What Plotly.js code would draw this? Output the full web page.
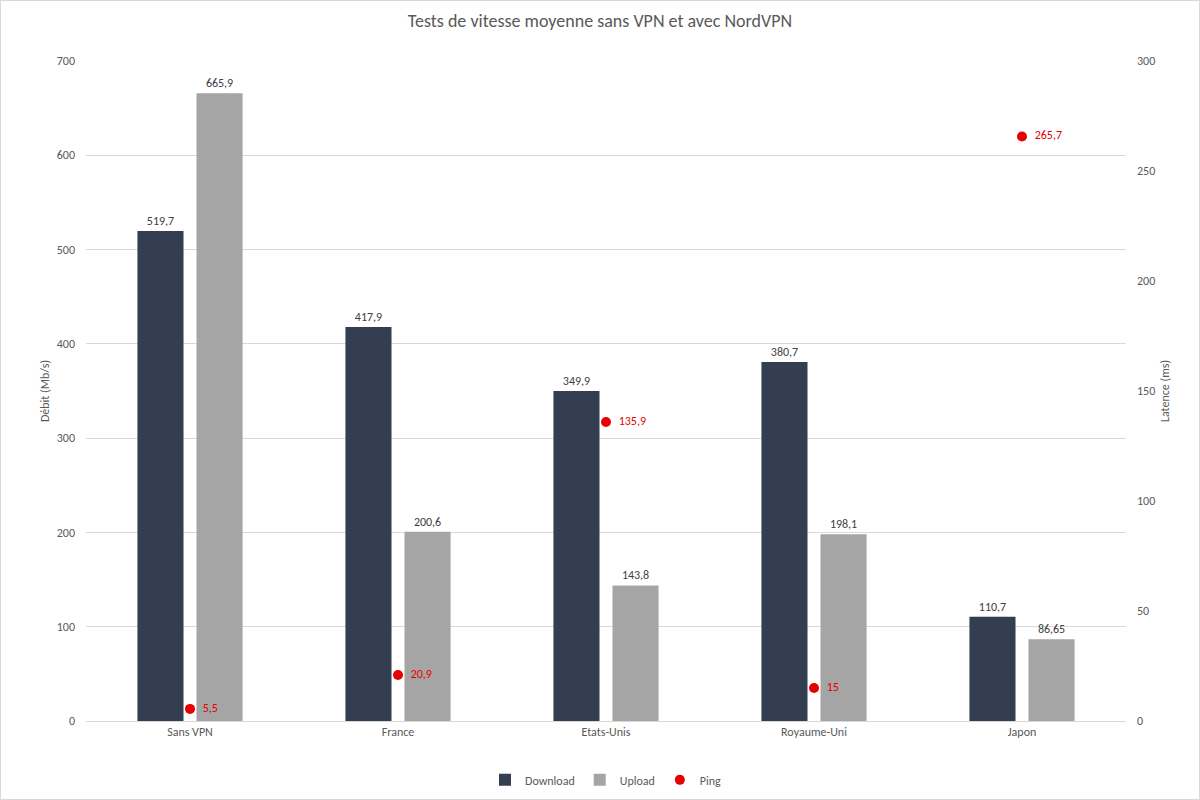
<!DOCTYPE html>
<html>
<head>
<meta charset="utf-8">
<script src="https://cdn.plot.ly/plotly-3.0.1.min.js"></script>
<style>
html,body{margin:0;padding:0;background:#fff;}
#chart{width:1200px;height:800px;box-sizing:border-box;border:1px solid #d9d9d9;}
</style>
</head>
<body>
<div id="chart"></div>
<script>
const categories = ["Sans VPN", "France", "Etats-Unis", "Royaume-Uni", "Japon"];
const download = [519.7, 417.9, 349.9, 380.7, 110.7];
const upload = [665.9, 200.6, 143.8, 198.1, 86.65];
const ping = [5.5, 20.9, 135.9, 15, 265.7];

const fmt = v => String(v).replace('.', ',');
const font = "Calibri, Carlito, 'Liberation Sans', 'Noto Sans', sans-serif";
const gray = "#595959";

const traces = [
  {
    type: "bar", name: "Download", x: categories, y: download,
    marker: {color: "#333f50"},
    text: download.map(fmt), textposition: "outside",
    textfont: {family: font, size: 12, color: "#404040"},
    cliponaxis: false, hoverinfo: "y"
  },
  {
    type: "bar", name: "Upload", x: categories, y: upload,
    marker: {color: "#a5a5a5"},
    text: upload.map(fmt), textposition: "outside",
    textfont: {family: font, size: 12, color: "#404040"},
    cliponaxis: false, hoverinfo: "y"
  },
  {
    type: "scatter", mode: "markers+text", name: "Ping", x: categories, y: ping,
    yaxis: "y2",
    marker: {color: "#e60000", size: 10},
    text: ping.map(v => "  " + fmt(v)), textposition: "middle right",
    textfont: {family: font, size: 12, color: "#e60000"},
    cliponaxis: false
  }
];

const layout = {
  width: 1198, height: 798,
  paper_bgcolor: "#fff", plot_bgcolor: "#fff",
  margin: {l: 85, r: 73, t: 60, b: 78},
  font: {family: font, color: gray, size: 12},
  title: {text: "Tests de vitesse moyenne sans VPN et avec NordVPN", x: 0.5, xanchor: "center", y: 0.975, yanchor: "middle",
          font: {family: font, size: 18, color: gray}},
  barmode: "group",
  bargap: 0.432,
  bargroupgap: 0.22,
  showlegend: true,
  legend: {orientation: "h", x: 0.5, xanchor: "center", yref: "container", y: 0.024, yanchor: "middle",
           font: {family: font, size: 12, color: gray}, itemwidth: 30},
  xaxis: {
    type: "category", showgrid: false, showline: true, linecolor: "#d9d9d9", linewidth: 1,
    ticks: "", tickfont: {family: font, size: 12, color: gray}, zeroline: false
  },
  yaxis: {
    range: [0, 700], dtick: 100, showgrid: true, gridcolor: "#d9d9d9", gridwidth: 1,
    zeroline: false, showline: false, ticks: "", ticklabelstandoff: 10,
    tickfont: {family: font, size: 12, color: gray},
    title: {text: "Débit (Mb/s)", font: {family: font, size: 12, color: gray}, standoff: 4}
  },
  yaxis2: {
    overlaying: "y", side: "right", range: [0, 300], dtick: 50, showgrid: false,
    zeroline: false, showline: false, ticks: "", ticklabelstandoff: 10,
    tickfont: {family: font, size: 12, color: gray},
    title: {text: "Latence (ms)", font: {family: font, size: 12, color: gray}, standoff: 6}
  }
};

Plotly.newPlot("chart", traces, layout, {displayModeBar: false, staticPlot: true});
</script>
</body>
</html>
